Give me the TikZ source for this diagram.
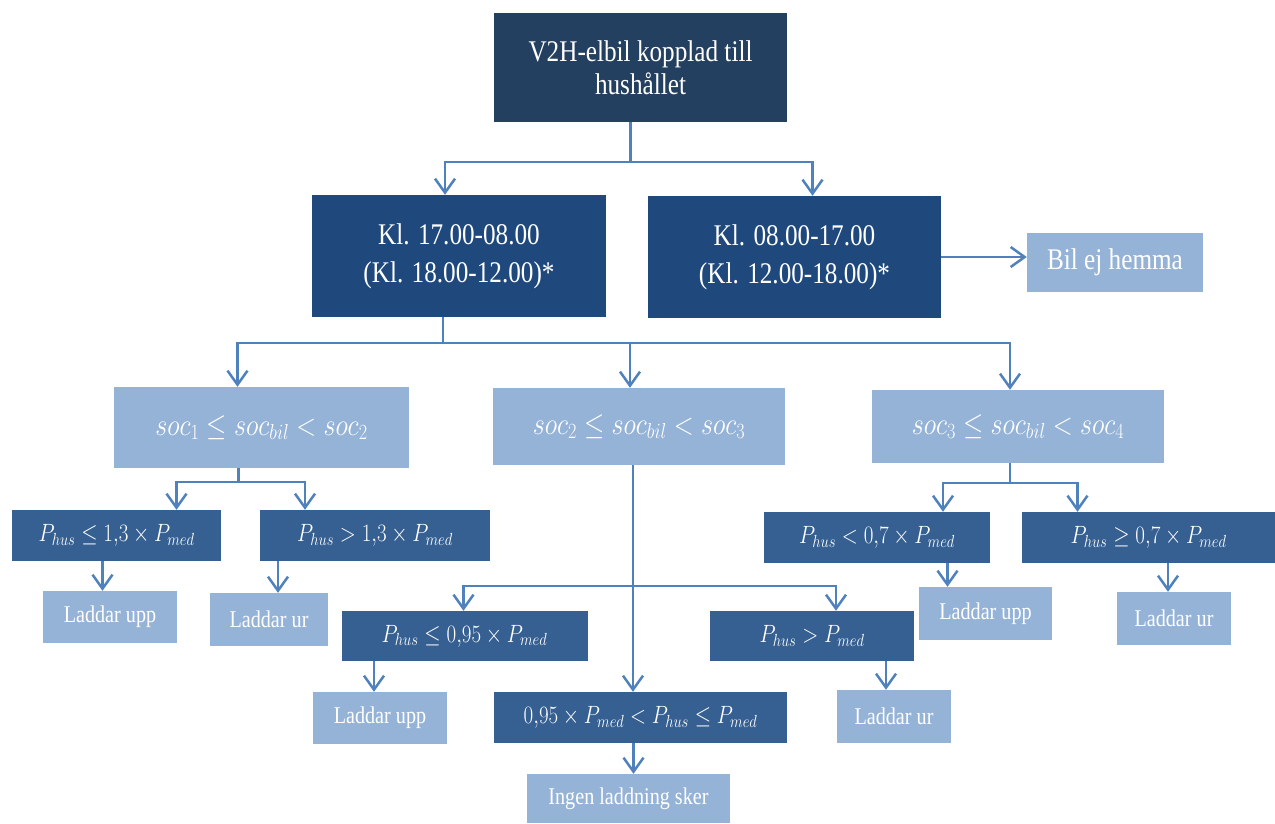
\RequirePackage{fix-cm}
\documentclass[tikz,border=0pt]{standalone}
\usepackage{fontspec}
\setmainfont{Liberation Serif}[FakeStretch=0.84]
\usepackage{amsmath}
\usetikzlibrary{arrows.meta,calc}

\definecolor{topblue}{RGB}{36,64,97}
\definecolor{timeblue}{RGB}{31,73,125}
\definecolor{condblue}{RGB}{54,96,146}
\definecolor{lightblue}{RGB}{149,179,215}
\definecolor{linkblue}{RGB}{79,129,189}

\newcommand{\sqz}[1]{\scalebox{0.84}[1]{$#1$}}

\tikzset{
	box/.style={inner sep=0pt, text=white, align=center},
	topbox/.style={box, fill=topblue, font=\fontsize{30}{33}\selectfont},
	timebox/.style={box, fill=timeblue, font=\fontsize{30}{38}\selectfont},
	condbox/.style={box, fill=condblue, font=\fontsize{25}{28}\selectfont},
	socbox/.style={box, fill=lightblue, font=\fontsize{31}{34}\selectfont},
	outbox/.style={box, fill=lightblue, font=\fontsize{24}{28}\selectfont},
	link/.style={draw=linkblue, line width=2.5pt},
	arrow/.style={link, -{Straight Barb[length=14pt,width=20pt,line width=2.5pt]}}}

\begin{document}
\begin{tikzpicture}[x=1pt,y=-1pt]
      \useasboundingbox (0,0) rectangle (1275,823);

      \node[topbox, minimum width=293pt, minimum height=109pt] (T) at (640.5,67.5) {V2H-elbil kopplad till\\hushållet};

      \node[timebox, minimum width=294pt, minimum height=122pt] (K1) at (459,256) {Kl. 17.00-08.00\\(Kl. 18.00-12.00)*};
      \node[timebox, minimum width=293pt, minimum height=122pt] (K2) at (794.5,257) {Kl. 08.00-17.00\\(Kl. 12.00-18.00)*};
      \node[outbox, minimum width=176pt, minimum height=59pt, font=\fontsize{30}{34}\selectfont] (Bil) at (1115,262.5) {Bil ej hemma};

      \node[socbox, minimum width=295pt, minimum height=81pt] (S1) at (261.5,427.5) {\sqz{soc_1\le soc_{bil}<soc_2}};
      \node[socbox, minimum width=292pt, minimum height=77pt] (S2) at (639,426.5) {\sqz{soc_2\le soc_{bil}<soc_3}};
      \node[socbox, minimum width=292pt, minimum height=73pt] (S3) at (1018,426.5) {\sqz{soc_3\le soc_{bil}<soc_4}};

      \node[condbox, minimum width=209pt, minimum height=51pt] (P1) at (116.5,535.5) {\sqz{P_{hus}\le 1{,}3\times P_{med}}};
      \node[condbox, minimum width=230pt, minimum height=51pt] (P2) at (375,535.5) {\sqz{P_{hus}>1{,}3\times P_{med}}};
      \node[outbox, minimum width=134pt, minimum height=52pt] (L1) at (110,617) {Laddar upp};
      \node[outbox, minimum width=118pt, minimum height=53pt] (L2) at (269,619.5) {Laddar ur};

      \node[condbox, minimum width=246pt, minimum height=50pt] (P3) at (464.5,636) {\sqz{P_{hus}\le 0{,}95\times P_{med}}};
      \node[condbox, minimum width=204pt, minimum height=50pt] (P4) at (812,636) {\sqz{P_{hus}>P_{med}}};
      \node[condbox, minimum width=293pt, minimum height=51pt] (P7) at (640.5,717.5) {\sqz{0{,}95\times P_{med}<P_{hus}\le P_{med}}};
      \node[outbox, minimum width=134pt, minimum height=52pt] (L3) at (380,718) {Laddar upp};
      \node[outbox, minimum width=114pt, minimum height=53pt] (L4) at (894,716.5) {Laddar ur};
      \node[outbox, minimum width=203pt, minimum height=49pt] (I) at (628.5,798.5) {Ingen laddning sker};

      \node[condbox, minimum width=226pt, minimum height=51pt] (P5) at (877,537.5) {\sqz{P_{hus}<0{,}7\times P_{med}}};
      \node[condbox, minimum width=253pt, minimum height=51pt] (P6) at (1148.5,537.5) {\sqz{P_{hus}\ge 0{,}7\times P_{med}}};
      \node[outbox, minimum width=133pt, minimum height=53pt] (L5) at (985.5,613.5) {Laddar upp};
      \node[outbox, minimum width=114pt, minimum height=53pt] (L6) at (1174,618.5) {Laddar ur};

      % top
      \draw[link] ([xshift=-10pt]T.south) -- ++(0,40) coordinate (f1);
      \draw[arrow] (f1) -| ([xshift=-14pt]K1.north);
      \draw[arrow] (f1) -| ([xshift=18pt]K2.north);
      \draw[arrow] (K2.east) -- (K2.east -| Bil.west);

      % soc levels
      \draw[link] ([xshift=-16pt]K1.south) -- ++(0,26) coordinate (f2);
      \draw[arrow] (f2) -| ([xshift=-24pt]S1.north);
      \draw[arrow] (f2) -| ([xshift=-9pt]S2.north);
      \draw[arrow] (f2) -| ([xshift=-8pt]S3.north);

      % left branch
      \draw[link] ([xshift=-23pt]S1.south) -- ++(0,14) coordinate (f3);
      \draw[arrow] (f3) -| ([xshift=60pt]P1.north);
      \draw[arrow] (f3) -| ([xshift=-70pt]P2.north);
      \draw[arrow] ([xshift=-14pt]P1.south) -- ([xshift=-14pt]P1.south |- L1.north);
      \draw[arrow] ([xshift=9pt]L2.north |- P2.south) -- ([xshift=9pt]L2.north);

      % middle branch
      \draw[link] ([xshift=-6pt]S2.south) -- ++(0,121) coordinate (f5);
      \draw[arrow] (f5) -- (f5 |- P7.north);
      \draw[arrow] (f5) -| ([xshift=-1pt]P3.north);
      \draw[arrow] (f5) -| ([xshift=24pt]P4.north);
      \draw[arrow] ([xshift=-6pt]L3.north |- P3.south) -- ([xshift=-6pt]L3.north);
      \draw[arrow] ([xshift=-8pt]L4.north |- P4.south) -- ([xshift=-8pt]L4.north);
      \draw[arrow] ([xshift=5pt]I.north |- P7.south) -- ([xshift=5pt]I.north);

      % right branch
      \draw[link] ([xshift=-8pt]S3.south) -- ++(0,20) coordinate (f4);
      \draw[arrow] (f4) -| ([xshift=66pt]P5.north);
      \draw[arrow] (f4) -| ([xshift=-71pt]P6.north);
      \draw[arrow] ([xshift=-38pt]L5.north |- P5.south) -- ([xshift=-38pt]L5.north);
      \draw[arrow] ([xshift=-6pt]L6.north |- P6.south) -- ([xshift=-6pt]L6.north);
\end{tikzpicture}
\end{document}
